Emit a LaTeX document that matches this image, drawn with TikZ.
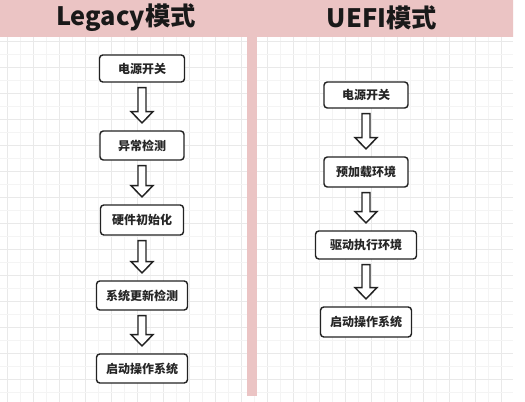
\documentclass[tikz,border=0pt]{standalone}
\usepackage{fontspec}
\setmainfont{Noto Sans CJK SC}
\usetikzlibrary{calc}
\definecolor{pinkband}{HTML}{EBC4C4}
\definecolor{gridminor}{HTML}{F4F4F4}
\definecolor{gridmajor}{HTML}{E9E9E9}
\definecolor{boxline}{HTML}{222222}
\tikzset{
  flowbox/.style={draw=boxline, line width=1.1pt, rounded corners=2.5pt, fill=white,
    inner sep=0pt, font=\fontsize{9}{10}\selectfont\bfseries, text=black!85},
  blkarrow/.style={draw=boxline, line width=1.1pt, fill=white, line join=miter},
  titletext/.style={font=\fontsize{19}{22}\selectfont\bfseries, text=black!90, inner sep=0pt}
}
\newcommand\blockarrow[2]{%
  \draw[blkarrow] let \p1=(#1.south), \p2=(#2.north) in
    (\x1-3pt,\y1-3.75pt) -- (\x1+3pt,\y1-3.75pt) -- (\x1+3pt,\y2+14pt)
    -- (\x1+8.25pt,\y2+14pt) -- (\x1,\y2+5.5pt) -- (\x1-8.25pt,\y2+14pt)
    -- (\x1-3pt,\y2+14pt) -- cycle;}
\begin{document}
\begin{tikzpicture}[x=0.75pt,y=-0.75pt]
\useasboundingbox (0,0) rectangle (525,402);
\fill[white] (0,0) rectangle (525,402);
% grid
\foreach \i in {0,...,40}{
  \pgfmathsetmacro{\gx}{7+13*\i}
  \ifodd\i \def\gc{gridminor}\else\def\gc{gridmajor}\fi
  \ifdim\gx pt<513pt
    \draw[\gc, line width=0.4pt] (\gx,37) -- (\gx,402);
  \fi
}
\foreach \i in {0,...,28}{
  \pgfmathsetmacro{\gy}{41+13*\i}
  \ifodd\i \def\gc{gridminor}\else\def\gc{gridmajor}\fi
  \ifdim\gy pt<402pt
    \draw[\gc, line width=0.4pt] (0,\gy) -- (513,\gy);
  \fi
}
% header band and divider
\fill[pinkband] (0,0) -- (508,0) arc[start angle=90, end angle=0, radius=5] -- (513,37) -- (0,37) -- cycle;
\fill[pinkband] (247,37) rectangle (257,396);
\node[titletext] (tl) at (126,18) {Legacy模式};
\node[titletext] (tr) at (382,18) {UEFI模式};
% left column
\node[flowbox, minimum width=85*0.75pt, minimum height=27*0.75pt] (l1) at (142,68.5) {电源开关};
\node[flowbox, minimum width=84*0.75pt, minimum height=29*0.75pt] (l2) at (142,145.5) {异常检测};
\node[flowbox, minimum width=83*0.75pt, minimum height=30*0.75pt] (l3) at (142,220) {硬件初始化};
\node[flowbox, minimum width=91*0.75pt, minimum height=29*0.75pt] (l4) at (142,295.5) {系统更新检测};
\node[flowbox, minimum width=91*0.75pt, minimum height=29*0.75pt] (l5) at (142,368.5) {启动操作系统};
\blockarrow{l1}{l2}
\blockarrow{l2}{l3}
\blockarrow{l3}{l4}
\blockarrow{l4}{l5}
% right column
\node[flowbox, minimum width=84*0.75pt, minimum height=26*0.75pt] (r1) at (366,95) {电源开关};
\node[flowbox, minimum width=84*0.75pt, minimum height=30*0.75pt] (r2) at (366,172) {预加载环境};
\node[flowbox, minimum width=101*0.75pt, minimum height=28*0.75pt] (r3) at (366,245) {驱动执行环境};
\node[flowbox, minimum width=91*0.75pt, minimum height=30*0.75pt] (r4) at (366,322) {启动操作系统};
\blockarrow{r1}{r2}
\blockarrow{r2}{r3}
\blockarrow{r3}{r4}
\end{tikzpicture}
\end{document}
